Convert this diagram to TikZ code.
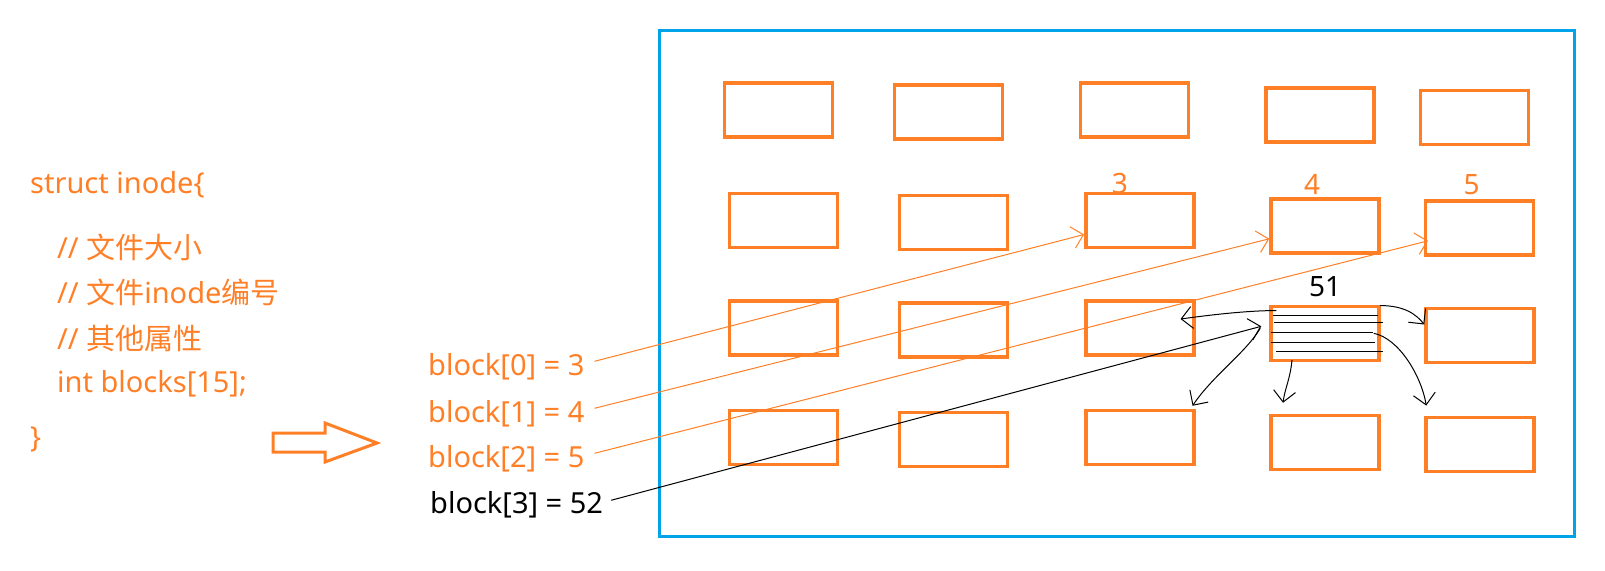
\documentclass[tikz,border=0pt]{standalone}
\usepackage{fontspec}
\setmainfont{Noto Sans}
\newfontfamily\cjk{Noto Sans CJK SC}
\usepackage{xcolor}
\usetikzlibrary{calc,arrows.meta,positioning}
\definecolor{paintorange}{RGB}{255,127,39}
\definecolor{paintblue}{RGB}{0,162,232}
\tikzset{
  blk/.style={draw=paintorange, line width=3.5pt, minimum width=108pt, minimum height=54pt, inner sep=0pt},
  codetext/.style={text=paintorange, anchor=base west, inner sep=0pt, font=\fontsize{29}{35}\selectfont},
  numlbl/.style={anchor=base, inner sep=0pt, font=\fontsize{28}{34}\selectfont},
  barb/.style={-{Straight Barb[length=11pt,width=22pt]}, line width=1pt},
}

\begin{document}
\begin{tikzpicture}[x=1pt,y=-1pt]
  \useasboundingbox (0,0) rectangle (1605,570);
  \draw[paintblue, line width=3pt] (659,30) rectangle (1574,536);

  \foreach \n/\cx/\cy in {11/778.5/110, 12/948.4/112, 13/1134.7/110, 14/1320/115.2, 15/1474.5/117.3,
                          21/783.6/220.5, 22/953.5/222.7, 23/1139.8/220.5, 24/1325/225.8, 25/1479.7/227.8,
                          31/783.6/328, 32/953.5/330.2, 33/1139.8/328, 34/1325/333.3, 35/1480/335.5,
                          41/783.6/437.5, 42/953.5/439.7, 43/1139.8/437.5, 44/1325/442.5, 45/1480/444.3}
    \node[blk] (b\n) at (\cx,\cy) {};

  \node[codetext] (s0) at (30,193) {struct inode\{};
  \node[codetext] (s1) at (57,258) {// {\cjk 文件大小}};
  \node[codetext] (s2) at (57,303) {// {\cjk 文件}inode{\cjk 编号}};
  \node[codetext] (s3) at (57,349) {// {\cjk 其他属性}};
  \node[codetext] (s4) at (57,392) {int blocks[15];};
  \node[codetext] (s5) at (30,447) {\}};

  \draw[paintorange, line width=3pt] (273,433) -- (325,433) -- (325,423) -- (377,443)
    -- (325,462) -- (325,452) -- (273,452) -- cycle;

  \node[codetext] (l0) at (428,375) {block[0] = 3};
  \node[codetext] (l1) at (428,422) {block[1] = 4};
  \node[codetext] (l2) at (428,467) {block[2] = 5};
  \node[codetext, text=black] (l3) at (430,513) {block[3] = 52};

  \node[numlbl, text=paintorange] (n3) at ([xshift=-20pt,yshift=-1.5pt]b23.north) {3};
  \node[numlbl, text=paintorange] (n4) at ([xshift=-13pt,yshift=2.8pt]b24.north) {4};
  \node[numlbl, text=paintorange] (n5) at ([xshift=-8pt,yshift=4.8pt]b25.north) {5};
  \node[numlbl] (n51) [above=8pt of b34] {51};

  \draw[barb, paintorange] ([xshift=10pt,yshift=5pt]l0.east) -- ([yshift=-14pt]b23.west);
  \draw[barb, paintorange] ([xshift=10pt,yshift=5pt]l1.east) -- ([yshift=-13pt]b24.west);
  \draw[barb, paintorange] ([xshift=10pt,yshift=5pt]l2.east) -- ([xshift=4pt,yshift=-13pt]b25.west);
  \draw[barb] ([xshift=8pt,yshift=4pt]l3.east) -- ([xshift=-8pt,yshift=7pt]b34.west);

  \foreach \xa/\xb/\yy in {1273/1378/315, 1274/1383/322, 1271/1373/332, 1271/1375/342, 1276/1383/351}
    \draw[line width=1pt] (\xa,\yy) -- (\xb,\yy);

  \draw[barb] ([xshift=7pt,yshift=-6pt]b34.north west) .. controls +(-35,0) and +(15,-2) .. ([xshift=-15pt,yshift=9pt]b33.east);
  \draw[barb] ([xshift=-1pt,yshift=-1pt]b34.north east) .. controls +(25,0) and +(-8,-10) .. ([yshift=11pt]b35.west);
  \draw[barb] ([xshift=-9pt,yshift=5pt]b34.west) .. controls +(-15,25) and +(20,-30) .. ([xshift=-3pt,yshift=3pt]b43.north east);
  \draw[barb] ([xshift=-33pt,yshift=2pt]b34.south) .. controls +(-2,20) and +(2,-15) .. ([xshift=-42pt,yshift=11pt]b44.north);
  \draw[barb] ([xshift=-7pt]b34.east) .. controls +(25,5) and +(-5,-30) .. ([xshift=2pt,yshift=10pt]b45.north west);
\end{tikzpicture}
\end{document}
